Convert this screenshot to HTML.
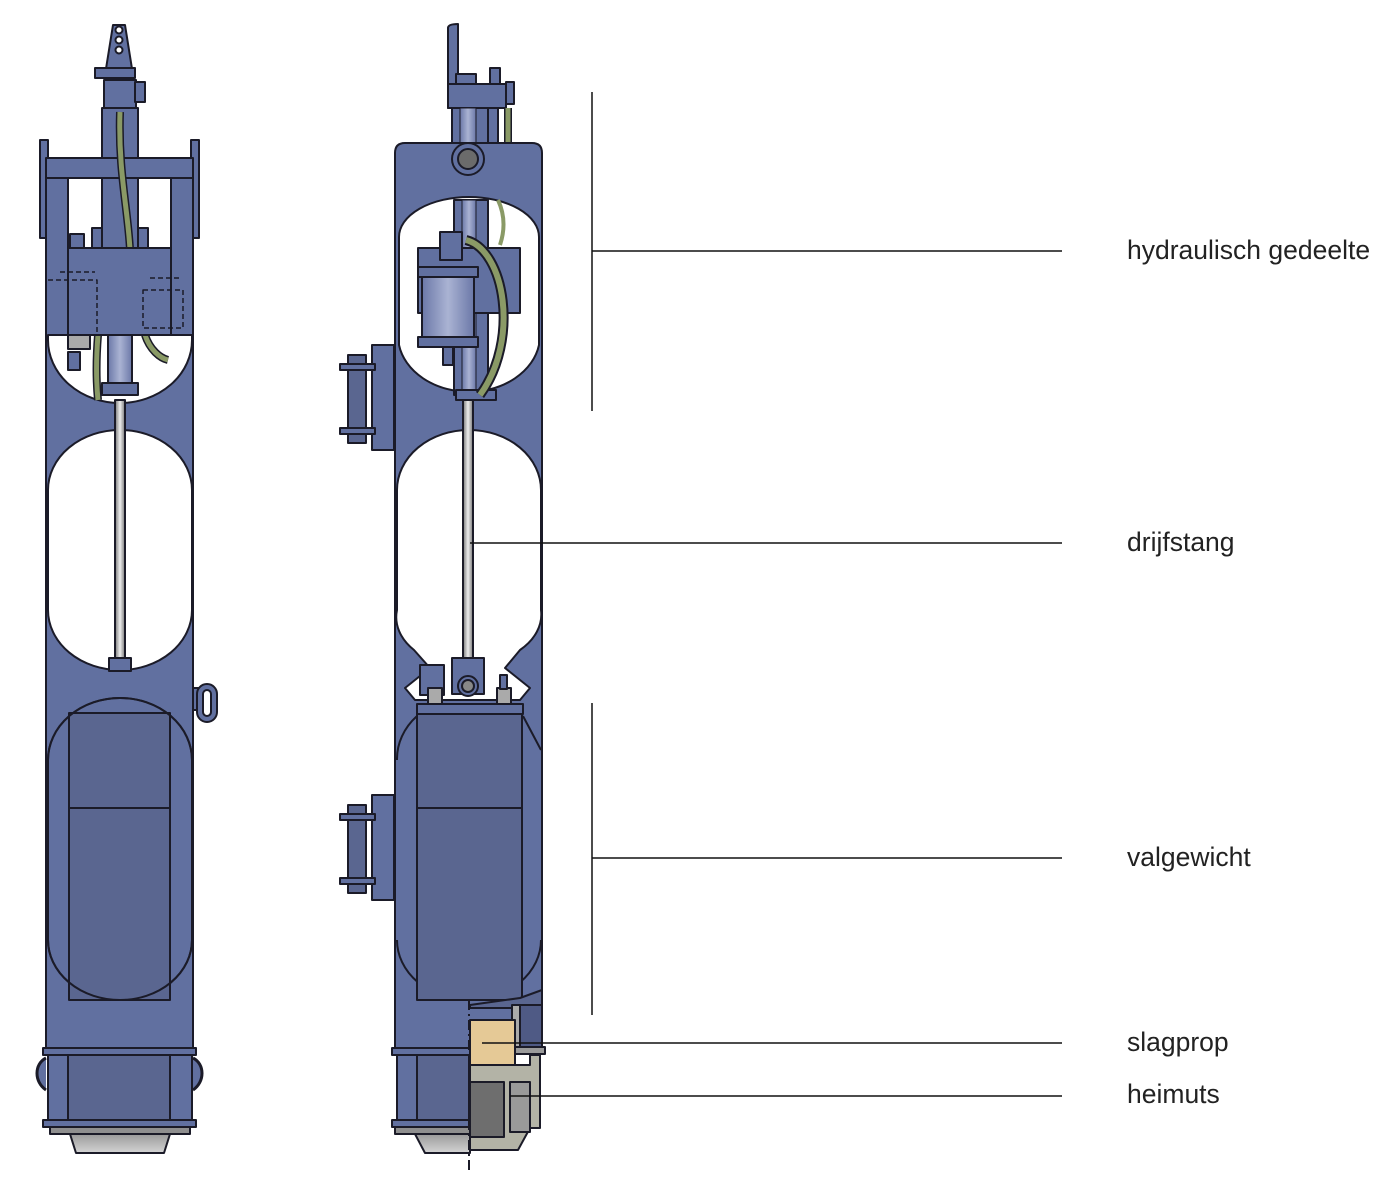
<!DOCTYPE html>
<html><head><meta charset="utf-8"><style>
html,body{margin:0;padding:0;background:#fff;}
svg{display:block}
text{font-family:"Liberation Sans",Arial,sans-serif;font-size:26.5px;fill:#222;}
</style></head><body>
<svg width="1398" height="1185" viewBox="0 0 1398 1185" xmlns="http://www.w3.org/2000/svg">
<defs>
<linearGradient id="rod" x1="0" x2="1"><stop offset="0" stop-color="#777"/><stop offset=".5" stop-color="#eee"/><stop offset="1" stop-color="#777"/></linearGradient>
<linearGradient id="cyl" x1="0" x2="1"><stop offset="0" stop-color="#6b78a8"/><stop offset=".5" stop-color="#aab3d3"/><stop offset="1" stop-color="#6b78a8"/></linearGradient>
<linearGradient id="base" x1="0" y1="0" x2="0" y2="1"><stop offset="0" stop-color="#9a9a9a"/><stop offset="1" stop-color="#d4d4d4"/></linearGradient>
</defs>
<g stroke="#1b1b28" stroke-width="2" stroke-linejoin="round">
<!-- ============ LEFT MACHINE ============ -->
<path d="M113,25 L125,25 L133,75 L105,75 Z" fill="#6170a0"/>
<circle cx="119" cy="30" r="3.5" fill="#fff"/><circle cx="119" cy="40" r="3.5" fill="#fff"/><circle cx="119" cy="50" r="3.5" fill="#fff"/>
<rect x="95" y="68" width="40" height="10" fill="#6170a0"/>
<rect x="104" y="80" width="32" height="28" fill="#6170a0"/>
<rect x="135" y="82" width="10" height="20" fill="#6170a0"/>
<rect x="102" y="108" width="36" height="140" fill="#6170a0"/>
<rect x="40" y="140" width="8" height="98" fill="#6170a0"/>
<rect x="191" y="140" width="8" height="98" fill="#6170a0"/>
<rect x="46" y="158" width="147" height="20" fill="#6170a0"/>
<rect x="46" y="178" width="22" height="170" fill="#6170a0"/>
<rect x="171" y="178" width="22" height="170" fill="#6170a0"/>
<path d="M120,112 C118,170 128,210 130,250" fill="none" stroke="#1b1b28" stroke-width="8"/>
<path d="M120,112 C118,170 128,210 130,250" fill="none" stroke="#8a9a66" stroke-width="5"/>
<rect x="92" y="228" width="10" height="22" fill="#6170a0"/>
<rect x="138" y="228" width="10" height="22" fill="#6170a0"/>
<rect x="70" y="234" width="14" height="14" fill="#6170a0"/>
<path d="M46,340 L193,340 L193,1050 L46,1050 Z" fill="#6170a0"/>
<!-- window A -->
<path d="M48,335 L192,335 L192,340 A72,63 0 0 1 48,340 Z" fill="#fff"/>
<rect x="108" y="335" width="24" height="50" fill="url(#cyl)"/>
<rect x="102" y="383" width="36" height="12" fill="#6170a0"/>
<path d="M98,335 C96,360 96,380 98,400" fill="none" stroke="#1b1b28" stroke-width="8"/>
<path d="M98,335 C96,360 96,380 98,400" fill="none" stroke="#8a9a66" stroke-width="5"/>
<path d="M145,335 C150,350 160,358 168,360" fill="none" stroke="#1b1b28" stroke-width="8"/>
<path d="M145,335 C150,350 160,358 168,360" fill="none" stroke="#8a9a66" stroke-width="5"/>
<rect x="68" y="352" width="12" height="18" fill="#6170a0"/>
<rect x="68" y="335" width="22" height="14" fill="#aaa"/>
<rect x="68" y="248" width="103" height="87" fill="#6170a0"/>
<path d="M48,280 L97,280 L97,335 L48,335 M60,272 L95,272 M143,290 L183,290 L183,328 L143,328 Z M150,278 L182,278" fill="none" stroke-dasharray="5,3" stroke-width="1.5"/>
<!-- window B -->
<path d="M48,490 A72,60 0 0 1 192,490 L192,610 A72,60 0 0 1 48,610 Z" fill="#fff"/>
<rect x="115" y="400" width="10" height="265" fill="url(#rod)"/>
<rect x="109" y="658" width="22" height="13" fill="#6170a0"/>
<!-- window C -->
<path d="M48,760 A72,62 0 0 1 192,760 L192,940 A72,60 0 0 1 48,940 Z" fill="#6170a0"/>
<rect x="69" y="713" width="101" height="287" fill="#5a6690"/>
<path d="M48,760 A72,62 0 0 1 192,760 M192,940 A72,60 0 0 1 48,940" fill="none"/>
<line x1="69" y1="808" x2="170" y2="808"/>
<rect x="193" y="688" width="6" height="22" fill="#6170a0"/>
<rect x="197" y="684" width="20" height="38" rx="10" fill="#6170a0"/>
<rect x="203" y="690" width="8" height="26" rx="4" fill="#fff"/>
<rect x="43" y="1048" width="153" height="7" fill="#6170a0"/>
<rect x="48" y="1055" width="144" height="65" fill="#6170a0"/>
<rect x="68" y="1055" width="102" height="65" fill="#5a6690"/>
<path d="M46,1058 C34,1064 34,1082 46,1090 M193,1058 C205,1064 205,1082 193,1090" fill="#6170a0" stroke-width="3"/>
<rect x="43" y="1120" width="153" height="7" fill="#6170a0"/>
<rect x="50" y="1127" width="140" height="7" fill="#8f8f8f"/>
<path d="M70,1134 L170,1134 L164,1153 L76,1153 Z" fill="url(#base)"/>

<!-- ============ RIGHT MACHINE ============ -->
<path d="M448,28 C448,25 452,24 458,24 L458,108 L448,108 Z" fill="#6170a0"/>
<rect x="456" y="74" width="20" height="12" fill="#6170a0"/>
<rect x="490" y="68" width="10" height="18" fill="#6170a0"/>
<rect x="448" y="84" width="58" height="24" fill="#6170a0"/>
<rect x="506" y="82" width="8" height="22" fill="#6170a0"/>
<rect x="452" y="108" width="36" height="40" fill="#6170a0"/>
<rect x="460" y="108" width="16" height="40" fill="url(#cyl)" stroke-width="1"/>
<rect x="488" y="108" width="10" height="35" fill="#6170a0"/>
<path d="M508,108 L508,145" stroke="#1b1b28" stroke-width="8"/>
<path d="M508,108 L508,145" stroke="#8a9a66" stroke-width="5"/>
<path d="M405,143 L532,143 Q542,143 542,153 L542,1050 L395,1050 L395,153 Q395,143 405,143 Z" fill="#6170a0"/>
<circle cx="468" cy="159" r="16" fill="#6170a0"/>
<circle cx="468" cy="159" r="10" fill="#6b6b6b"/>
<!-- window A -->
<path d="M399,237 A70,40 0 0 1 539,237 L539,345 A71,56 0 0 1 399,345 Z" fill="#fff"/>
<rect x="454" y="200" width="34" height="195" fill="#6170a0"/>
<rect x="462" y="200" width="14" height="195" fill="url(#cyl)" stroke-width="1"/>
<rect x="418" y="248" width="102" height="65" fill="#6170a0"/>
<rect x="440" y="232" width="22" height="28" fill="#6170a0"/>
<rect x="418" y="267" width="60" height="10" fill="#6170a0"/>
<rect x="422" y="277" width="52" height="60" fill="url(#cyl)"/>
<rect x="418" y="337" width="60" height="10" fill="#6170a0"/>
<rect x="443" y="347" width="10" height="18" fill="#6170a0"/>
<rect x="456" y="390" width="40" height="10" fill="#6170a0"/>
<path d="M466,240 C505,250 520,340 480,395" fill="none" stroke="#1b1b28" stroke-width="10"/>
<path d="M466,240 C505,250 520,340 480,395" fill="none" stroke="#8a9a66" stroke-width="6"/>
<path d="M498,200 C505,215 505,230 500,245" fill="none" stroke="#8a9a66" stroke-width="4"/>
<rect x="372" y="345" width="22" height="105" fill="#6170a0"/>
<rect x="348" y="355" width="18" height="88" fill="#5a6690"/>
<rect x="340" y="364" width="35" height="6" fill="#6170a0"/>
<rect x="340" y="428" width="35" height="6" fill="#6170a0"/>
<rect x="372" y="795" width="22" height="105" fill="#6170a0"/>
<rect x="348" y="805" width="18" height="88" fill="#5a6690"/>
<rect x="340" y="814" width="35" height="6" fill="#6170a0"/>
<rect x="340" y="878" width="35" height="6" fill="#6170a0"/>
<!-- window B -->
<path d="M397,490 A72,60 0 0 1 541,490 L541,610 A72,50 0 0 1 520,650 L505,668 L530,688 L520,700 L415,700 L405,688 L430,668 L414,650 A72,50 0 0 1 397,610 Z" fill="#fff"/>
<rect x="463" y="400" width="10" height="262" fill="url(#rod)"/>
<rect x="452" y="658" width="32" height="36" fill="#6170a0"/>
<circle cx="468" cy="686" r="10" fill="#6170a0"/><circle cx="468" cy="686" r="6" fill="#888"/>
<rect x="420" y="665" width="24" height="30" fill="#6170a0"/>
<rect x="428" y="688" width="14" height="18" fill="#aaa"/>
<rect x="497" y="688" width="14" height="18" fill="#aaa"/>
<rect x="500" y="675" width="7" height="14" fill="#6170a0"/>
<rect x="417" y="704" width="106" height="10" fill="#6170a0"/>
<!-- window C -->
<path d="M397,760 A72,62 0 0 1 417,716 M523,716 L541,750 M541,940 A72,60 0 0 1 397,940" fill="none"/>
<rect x="417" y="714" width="105" height="286" fill="#5a6690"/>
<line x1="417" y1="808" x2="522" y2="808"/>
<rect x="392" y="1048" width="80" height="7" fill="#6170a0"/>
<rect x="397" y="1055" width="72" height="65" fill="#6170a0"/>
<rect x="417" y="1055" width="52" height="65" fill="#5a6690"/>
<rect x="392" y="1120" width="80" height="7" fill="#6170a0"/>
<path d="M470,1005 L520,998 L542,990 L542,1050 L520,1050 L520,1008 L470,1008 Z" fill="#5a6690"/>
<rect x="512" y="1005" width="10" height="45" fill="#aaa"/>
<rect x="520" y="1005" width="22" height="45" fill="#4f5a85"/>
<rect x="470" y="1020" width="45" height="45" fill="#e5c996"/>
<rect x="515" y="1047" width="30" height="7" fill="#9a9a9a"/>
<path d="M470,1065 L530,1065 L530,1055 L540,1055 L540,1128 L530,1128 L518,1150 L470,1150 Z" fill="#b3b3a6"/>
<rect x="470" y="1082" width="34" height="55" fill="#6e6e6e"/>
<rect x="510" y="1082" width="20" height="50" fill="#9a9a9a"/>
<path d="M415,1134 L470,1134 L470,1153 L425,1153 Z" fill="url(#base)"/>
<rect x="395" y="1127" width="75" height="7" fill="#8f8f8f"/>
</g>
<line x1="469" y1="1000" x2="469" y2="1170" stroke="#1b1b28" stroke-width="2" stroke-dasharray="10,4,2,4"/>
<g stroke="#111" stroke-width="1.5">
<line x1="592" y1="92" x2="592" y2="411"/>
<line x1="592" y1="251" x2="1062" y2="251"/>
<line x1="470" y1="543" x2="1062" y2="543"/>
<line x1="592" y1="703" x2="592" y2="1015"/>
<line x1="592" y1="858" x2="1062" y2="858"/>
<line x1="482" y1="1043" x2="1062" y2="1043"/>
<line x1="510" y1="1096" x2="1062" y2="1096"/>
</g>
<text x="1127" y="259">hydraulisch gedeelte</text>
<text x="1127" y="551">drijfstang</text>
<text x="1127" y="866">valgewicht</text>
<text x="1127" y="1051">slagprop</text>
<text x="1127" y="1103">heimuts</text>
</svg>
</body></html>
